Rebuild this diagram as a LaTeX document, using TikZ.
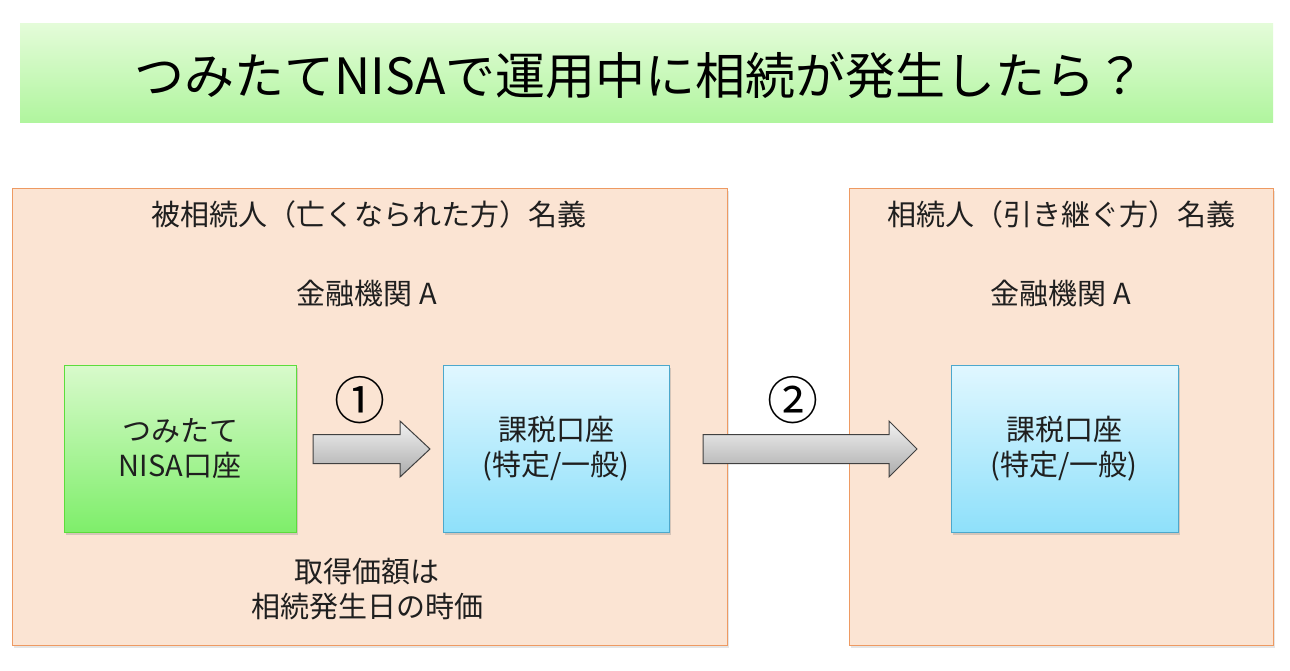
\documentclass[tikz,border=0pt]{standalone}
\usepackage{fontspec}
\setmainfont{Noto Sans CJK JP}
\usetikzlibrary{shadows}
\definecolor{panelfill}{HTML}{FBE4D3}
\definecolor{panelline}{HTML}{EE9A62}
\definecolor{titletop}{HTML}{E4FCD9}
\definecolor{titlebot}{HTML}{B0F59E}
\definecolor{greentop}{HTML}{D8FACB}
\definecolor{greenbot}{HTML}{7EEE6A}
\definecolor{greenline}{HTML}{5CDC3C}
\definecolor{bluetop}{HTML}{E0F7FF}
\definecolor{bluebot}{HTML}{8EE0FA}
\definecolor{blueline}{HTML}{4CA8CC}
\definecolor{arrtop}{HTML}{F2F2F2}
\definecolor{arrbot}{HTML}{ABABAB}
\tikzset{
  panel/.style={draw=panelline, line width=1pt, fill=panelfill, anchor=north west, inner sep=0pt,
    drop shadow={opacity=0.2, shadow xshift=1.5pt, shadow yshift=-2pt}},
  acct/.style={anchor=north west, inner sep=0pt, line width=1pt,
    drop shadow={opacity=0.3, shadow xshift=1.5pt, shadow yshift=-2pt}},
  greenbox/.style={acct, draw=greenline, top color=greentop, bottom color=greenbot},
  bluebox/.style={acct, draw=blueline, top color=bluetop, bottom color=bluebot},
  lbl/.style={font=\fontsize{29}{35}\selectfont, text=black!88, align=center},
  num/.style={font=\fontsize{51}{51}\selectfont, text=black},
  blockarrow/.style={draw=black!75, line width=1pt, top color=arrtop, bottom color=arrbot, line join=miter}
}
\begin{document}
\begin{tikzpicture}[x=1pt,y=-1pt]
\useasboundingbox[fill=white] (0,0) rectangle (1290,670);
% title band
\node[anchor=north west, inner sep=0pt, minimum width=1253pt, minimum height=99pt,
  top color=titletop, bottom color=titlebot] (title) at (20,23) {};
\node[font=\fontsize{50}{50}\selectfont, text=black] (titletext) at (640,75) {つみたてNISAで運用中に相続が発生したら？};
% panels
\node[panel, minimum width=715pt, minimum height=457pt] (left) at (12,188) {};
\node[panel, minimum width=424pt, minimum height=457pt] (right) at (849,188) {};
\node[lbl] (lhead) at (369,214) {被相続人（亡くなられた方）名義};
\node[lbl] (lbank) at (367,293) {金融機関 A};
\node[lbl] (rhead) at (1061,214) {相続人（引き継ぐ方）名義};
\node[lbl] (rbank) at (1061,293) {金融機関 A};
% accounts
\node[greenbox, minimum width=232pt, minimum height=167pt] (nisa) at (64,365) {};
\node[lbl] (nisatext) at (180,449) {つみたて\\NISA口座};
\node[bluebox, minimum width=226pt, minimum height=167pt] (tax1) at (443,365) {};
\node[lbl] (tax1text) at (556,449) {課税口座\\(特定/一般)};
\node[bluebox, minimum width=227pt, minimum height=167pt] (tax2) at (951,365) {};
\node[lbl] (tax2text) at (1064,449) {課税口座\\(特定/一般)};
% arrows
\coordinate (a1s) at (313,449);
\coordinate (a1e) at (430,449);
\draw[blockarrow] (a1s) ++(0,-14.5) -- ++(87,0) -- ++(0,-13.5) -- (a1e) -- ++(-30,28) -- ++(0,-13.5) -- ++(-87,0) -- cycle;
\node[num] (n1) at (360,400) {①};
\coordinate (a2s) at (703,449);
\coordinate (a2e) at (917,449);
\draw[blockarrow] (a2s) ++(0,-14.5) -- ++(186,0) -- ++(0,-13.5) -- (a2e) -- ++(-28,28) -- ++(0,-13.5) -- ++(-186,0) -- cycle;
\node[num] (n2) at (793,400) {②};
% note
\node[lbl] (note) at (367,589) {取得価額は\\相続発生日の時価};
\end{tikzpicture}
\end{document}
